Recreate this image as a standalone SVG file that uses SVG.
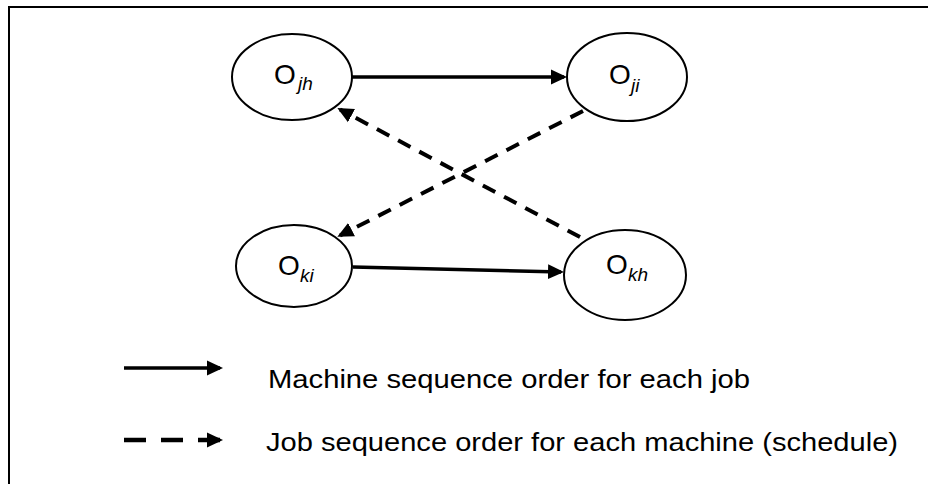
<svg xmlns="http://www.w3.org/2000/svg" width="928" height="484" viewBox="0 0 928 484">
  <style>
    .node ellipse { fill: #ffffff; stroke: #000000; stroke-width: 2; }
    .big { font-family: "Liberation Sans", Arial, sans-serif; font-size: 28px; fill: #000; }
    .sub { font-family: "Liberation Sans", Arial, sans-serif; font-size: 19px; font-style: italic; fill: #000; }
    .legend { font-family: "Liberation Sans", Arial, sans-serif; font-size: 26px; fill: #000; }
    .solid { stroke: #000; stroke-width: 3.5; fill: none; }
    .dashed { stroke: #000; stroke-width: 4; fill: none; stroke-dasharray: 14 10; }
  </style>
  <defs>
    <marker id="arrow" markerUnits="userSpaceOnUse" markerWidth="16" markerHeight="16" refX="13" refY="8" orient="auto">
      <path d="M0,0.5 L16,8 L0,15.5 Z" fill="#000"/>
    </marker>
  </defs>
  <rect x="0" y="0" width="928" height="484" fill="#ffffff"/>
  <rect id="frame" x="9" y="7" width="930" height="490" fill="none" stroke="#000" stroke-width="2"/>

  <g id="connectors">
    <line class="solid" x1="352" y1="77" x2="564" y2="77" marker-end="url(#arrow)"/>
    <line class="solid" x1="353" y1="267" x2="561" y2="272" marker-end="url(#arrow)"/>
    <line class="dashed" x1="583" y1="111" x2="340" y2="235.5" marker-end="url(#arrow)"/>
    <line class="dashed" x1="580" y1="237" x2="340" y2="109.5" marker-end="url(#arrow)"/>
  </g>

  <g id="node-Ojh" class="node">
    <ellipse cx="292" cy="77" rx="60" ry="43"/>
    <text class="big" x="274" y="84">O</text>
    <text class="sub" x="298" y="90">jh</text>
  </g>
  <g id="node-Oji" class="node">
    <ellipse cx="627" cy="77" rx="60" ry="44"/>
    <text class="big" x="609" y="84">O</text>
    <text class="sub" x="631" y="92">ji</text>
  </g>
  <g id="node-Oki" class="node">
    <ellipse cx="294" cy="266" rx="58" ry="41"/>
    <text class="big" x="278" y="275">O</text>
    <text class="sub" x="300" y="282">ki</text>
  </g>
  <g id="node-Okh" class="node">
    <ellipse cx="625" cy="275" rx="61" ry="45"/>
    <text class="big" x="606" y="274">O</text>
    <text class="sub" x="628" y="281">kh</text>
  </g>

  <g id="legend">
    <line class="solid" x1="124" y1="368" x2="220" y2="368" stroke-width="4" marker-end="url(#arrow)"/>
    <line x1="124" y1="440" x2="220" y2="440" stroke="#000" stroke-width="4.5" stroke-dasharray="22 15" marker-end="url(#arrow)"/>
    <text class="legend" x="268" y="388" textLength="482" lengthAdjust="spacingAndGlyphs">Machine sequence order for each job</text>
    <text class="legend" x="266" y="451" textLength="632" lengthAdjust="spacingAndGlyphs">Job sequence order for each machine (schedule)</text>
  </g>
</svg>
